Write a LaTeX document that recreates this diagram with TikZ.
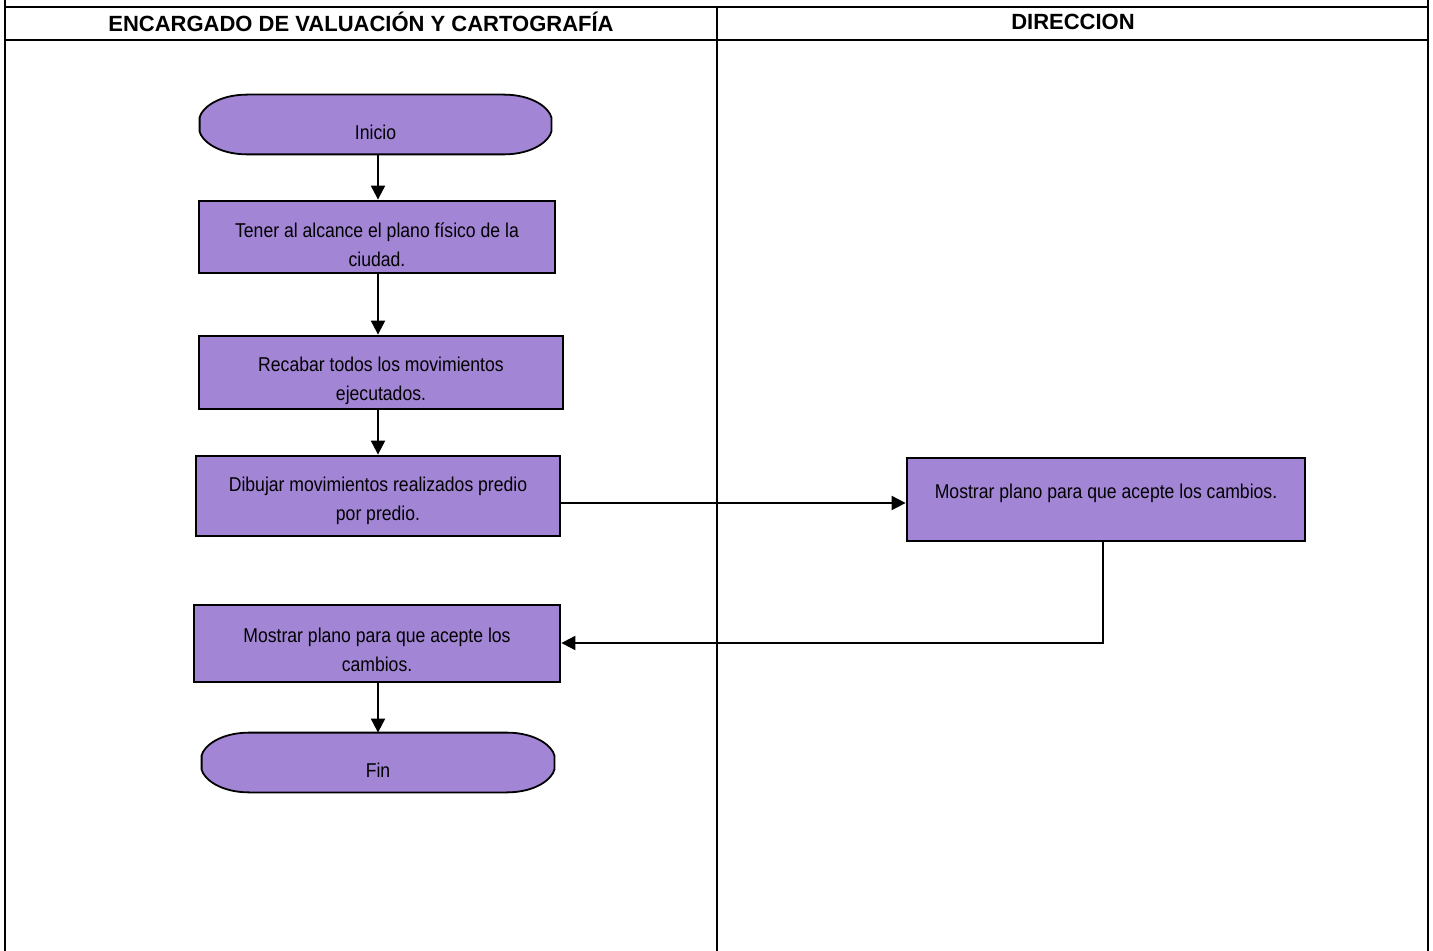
\documentclass[tikz,border=0pt]{standalone}
\usepackage{fontspec}
\setmainfont{Liberation Sans}
\newfontfamily\bodyfont{Liberation Sans}[FakeStretch=0.88]
\usetikzlibrary{arrows.meta,backgrounds,calc}
\definecolor{purp}{RGB}{163,133,214}
\tikzset{
  lane/.style={line width=1.4pt},
  hdr/.style={font=\fontsize{11}{13}\selectfont\bfseries},
  stepbox/.style={draw, line width=1.4pt, fill=purp, inner sep=0pt},
  boxtext/.style={align=center, font=\bodyfont\fontsize{10}{14.5}\selectfont, inner sep=0pt},
  termnode/.style={inner sep=0pt},
  termline/.style={draw, fill=purp, line width=0.9pt},
  conn/.style={line width=1pt, -{Triangle[length=7pt,width=7pt]}},
}
\newcommand\termdraw[1]{%
  \path[termline] ($(#1.north west)+(48,0)$) -- ($(#1.north east)+(-48,0)$)
    .. controls ($(#1.north east)+(-18,0)$) and ($(#1.east)+(-2,-16)$) .. ($(#1.east)+(0,-7)$)
    -- ($(#1.east)+(0,7)$)
    .. controls ($(#1.east)+(-2,16)$) and ($(#1.south east)+(-18,0)$) .. ($(#1.south east)+(-48,0)$)
    -- ($(#1.south west)+(48,0)$)
    .. controls ($(#1.south west)+(18,0)$) and ($(#1.west)+(2,16)$) .. ($(#1.west)+(0,7)$)
    -- ($(#1.west)+(0,-7)$)
    .. controls ($(#1.west)+(2,-16)$) and ($(#1.north west)+(18,0)$) .. ($(#1.north west)+(48,0)$) -- cycle;}
\begin{document}
\begin{tikzpicture}[x=0.5pt,y=-0.5pt]
\useasboundingbox (0,0) rectangle (1433,951);
% lanes
\coordinate (tl) at (5,0); \coordinate (bl) at (5,951);
\coordinate (tr) at (1428,0); \coordinate (br) at (1428,951);
\coordinate (tm) at (717,7); \coordinate (bm) at (717,951);
\coordinate (h1l) at (5,7); \coordinate (h1r) at (1428,7);
\coordinate (h2l) at (5,40); \coordinate (h2r) at (1428,40);
\draw[lane] (tl) -- (bl);
\draw[lane] (tr) -- (br);
\draw[lane] (tm) -- (bm);
\draw[lane] (h1l) -- (h1r);
\draw[lane] (h2l) -- (h2r);
\node[hdr] (h1) at (361,22) {ENCARGADO DE VALUACIÓN Y CARTOGRAFÍA};
\node[hdr] (h2) at (1073,22) {DIRECCION};
% nodes (sizes in pt = px/2)
\node[termnode, minimum width=175.5pt, minimum height=29.5pt] (ini) at (375.5,124.5) {};
\node[stepbox, minimum width=178pt, minimum height=36pt] (b1) at (377,237) {};
\node[stepbox, minimum width=182pt, minimum height=36.5pt] (b2) at (381,372.5) {};
\node[stepbox, minimum width=182pt, minimum height=40pt] (b3) at (378,496) {};
\node[stepbox, minimum width=199pt, minimum height=41.5pt] (b4) at (1106,499.5) {};
\node[stepbox, minimum width=183pt, minimum height=38.5pt] (b5) at (377,643.5) {};
\node[termnode, minimum width=176pt, minimum height=29.5pt] (fin) at (378,762.5) {};
\begin{scope}[on background layer]
\termdraw{ini}
\termdraw{fin}
\end{scope}
% texts
\node[boxtext] (ini-t) at ($(ini)+(0,8)$) {Inicio};
\node[boxtext] (b1-t) at ($(b1)+(0,8)$) {Tener al alcance el plano físico de la\\ciudad.};
\node[boxtext] (b2-t) at ($(b2)+(0,8)$) {Recabar todos los movimientos\\ejecutados.};
\node[boxtext] (b3-t) at ($(b3)+(0,5)$) {Dibujar movimientos realizados predio\\por predio.};
\node[boxtext] (b4-t) at ($(b4)+(0,-6)$) {Mostrar plano para que acepte los cambios.};
\node[boxtext] (b5-t) at ($(b5)+(0,6)$) {Mostrar plano para que acepte los\\cambios.};
\node[boxtext] (fin-t) at ($(fin)+(0,8)$) {Fin};
% connectors
\draw[conn] (ini.south -| 378,0) -- (b1.north -| 378,0);
\draw[conn] (b1.south -| 378,0) -- (b2.north -| 378,0);
\draw[conn] (b2.south -| 378,0) -- (b3.north -| 378,0);
\draw[conn] (b5.south -| 378,0) -- (fin.north -| 378,0);
\draw[conn] (b3.east |- 0,503) -- (b4.west |- 0,503);
\coordinate (c1) at (1103,643);
\draw[conn] (b4.south -| c1) -- (c1) -- (b5.east |- c1);
\end{tikzpicture}
\end{document}
